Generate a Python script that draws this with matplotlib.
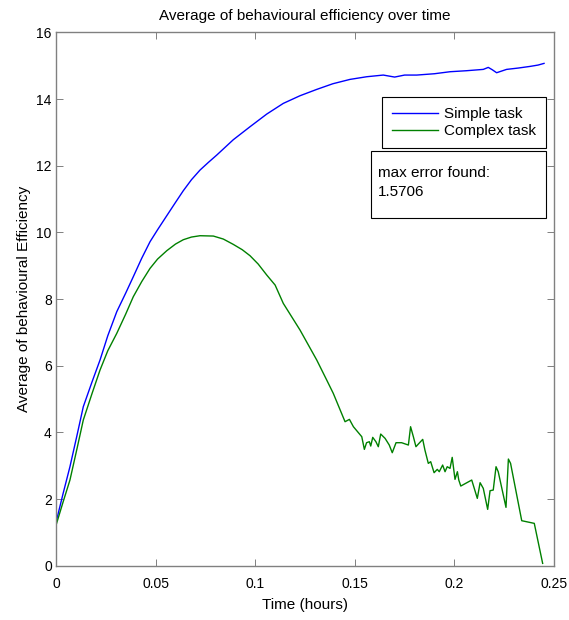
import matplotlib
matplotlib.use("Agg")
import matplotlib.pyplot as plt
from matplotlib.patches import Rectangle
from matplotlib.ticker import FixedLocator, FuncFormatter

plt.rcParams["font.family"] = ["Liberation Sans", "DejaVu Sans"]

# Simple task (blue)
t_simple = [0.0003, 0.0035, 0.0070, 0.0105, 0.0137, 0.0180, 0.0221, 0.0260,
            0.0305, 0.0350, 0.0388, 0.0430, 0.0472, 0.0510, 0.0556, 0.0600,
            0.0639, 0.0680, 0.0723, 0.0765, 0.0807, 0.0890, 0.0974, 0.1058,
            0.1141, 0.1225, 0.1309, 0.1390, 0.1476, 0.1560, 0.1643, 0.1700,
            0.1750, 0.1811, 0.1900, 0.1978, 0.2060, 0.2145, 0.2170, 0.2190,
            0.2212, 0.2262, 0.2320, 0.2380, 0.2420, 0.2450]
v_simple = [1.37, 2.15, 2.97, 3.90, 4.77, 5.50, 6.17, 6.90,
            7.62, 8.18, 8.67, 9.22, 9.72, 10.08, 10.50, 10.90,
            11.25, 11.58, 11.87, 12.10, 12.32, 12.78, 13.17, 13.55,
            13.87, 14.10, 14.29, 14.46, 14.59, 14.67, 14.72, 14.66,
            14.72, 14.72, 14.76, 14.82, 14.85, 14.89, 14.95, 14.88,
            14.79, 14.89, 14.93, 14.98, 15.02, 15.07]

# Complex task (green)
t_complex = [0.0003, 0.0035, 0.0070, 0.0105, 0.0137, 0.0180, 0.0221, 0.0260,
             0.0305, 0.0350, 0.0388, 0.0430, 0.0472, 0.0510, 0.0556, 0.0600,
             0.0639, 0.0680, 0.0723, 0.0790, 0.0840, 0.0890, 0.0935, 0.0974,
             0.1015, 0.1058, 0.1100, 0.1141, 0.1225, 0.1309, 0.1359, 0.1392,
             0.1451, 0.1473, 0.1493, 0.1535, 0.1548, 0.1559, 0.1573, 0.1580,
             0.1590, 0.1606, 0.1618, 0.1630, 0.1652, 0.1673, 0.1688, 0.1707,
             0.1735, 0.1769, 0.1780, 0.1794, 0.1807, 0.1819, 0.1841, 0.1852,
             0.1869, 0.1881, 0.1898, 0.1914, 0.1924, 0.1941, 0.1953, 0.1964,
             0.1978, 0.1989, 0.2003, 0.2015, 0.2022, 0.2032, 0.2087, 0.2115,
             0.2129, 0.2145, 0.2167, 0.2179, 0.2195, 0.2209, 0.2220, 0.2259,
             0.2271, 0.2282, 0.2338, 0.2401, 0.2443]
v_complex = [1.27, 1.90, 2.57, 3.50, 4.37, 5.15, 5.87, 6.45,
             6.97, 7.55, 8.07, 8.52, 8.92, 9.20, 9.45, 9.65,
             9.78, 9.86, 9.90, 9.89, 9.80, 9.64, 9.48, 9.30,
             9.05, 8.72, 8.42, 7.87, 7.07, 6.17, 5.57, 5.17,
             4.32, 4.39, 4.17, 3.87, 3.49, 3.69, 3.72, 3.59,
             3.85, 3.72, 3.57, 3.95, 3.82, 3.62, 3.39, 3.69,
             3.69, 3.62, 4.17, 3.87, 3.57, 3.65, 3.79, 3.47,
             3.07, 3.12, 2.79, 2.89, 2.82, 3.02, 2.82, 2.97,
             2.92, 3.25, 2.59, 2.82, 2.57, 2.39, 2.57, 2.02,
             2.49, 2.32, 1.69, 2.25, 2.27, 2.97, 2.82, 1.75,
             3.20, 3.07, 1.35, 1.27, 0.07]

x_ticks = [0, 0.05, 0.1, 0.15, 0.2, 0.25]
y_ticks = [0, 2, 4, 6, 8, 10, 12, 14, 16]

W, H = 569, 620
fig = plt.figure(figsize=(W / 100, H / 100), dpi=100)
ax = fig.add_axes([56 / W, 1 - 565.7 / H, (554 - 56) / W, (565.7 - 32.4) / H])

ax.plot(t_simple, v_simple, color="#0000ff", lw=1.0, label="Simple task")
ax.plot(t_complex, v_complex, color="#008000", lw=1.0, label="Complex task")

ax.set_xlim(0, 0.25)
ax.set_ylim(0, 16)
ax.xaxis.set_major_locator(FixedLocator(x_ticks))
ax.yaxis.set_major_locator(FixedLocator(y_ticks))
ax.xaxis.set_major_formatter(FuncFormatter(lambda v, p: "%g" % v))
ax.yaxis.set_major_formatter(FuncFormatter(lambda v, p: "%g" % v))
ax.tick_params(direction="in", top=True, right=True, length=5, width=0.7,
               labelsize=10, color="#808080")
ax.tick_params(axis="x", pad=8)
ax.tick_params(axis="y", pad=3)
for s in ax.spines.values():
    s.set_linewidth(1.0)
    s.set_color("#808080")

ax.set_title("Average of behavioural efficiency over time", fontsize=11, pad=9)
ax.set_xlabel("Time (hours)", fontsize=11, labelpad=5)
ax.set_ylabel("Average of behavioural Efficiency", fontsize=11, labelpad=4)

leg = ax.legend(loc="upper right", bbox_to_anchor=(546 / W, 1 - 97.3 / H),
                bbox_transform=fig.transFigure, borderaxespad=0, fancybox=False,
                framealpha=1, edgecolor="black", fontsize=11, handlelength=3.0,
                handletextpad=0.4, borderpad=0.65, labelspacing=0.2)
leg.get_frame().set_linewidth(0.8)

fig.patches.append(Rectangle((371 / W, 1 - 218 / H), (546 - 371) / W, (218 - 151) / H,
                             transform=fig.transFigure, fill=True, facecolor="white",
                             edgecolor="black", lw=0.8, zorder=5))
fig.text(378 / W, 1 - 173 / H, "max error found:", fontsize=11, va="center", zorder=6)
fig.text(378 / W, 1 - 192 / H, "1.5706", fontsize=11, va="center", zorder=6)

fig.savefig("out.png", dpi=100)
